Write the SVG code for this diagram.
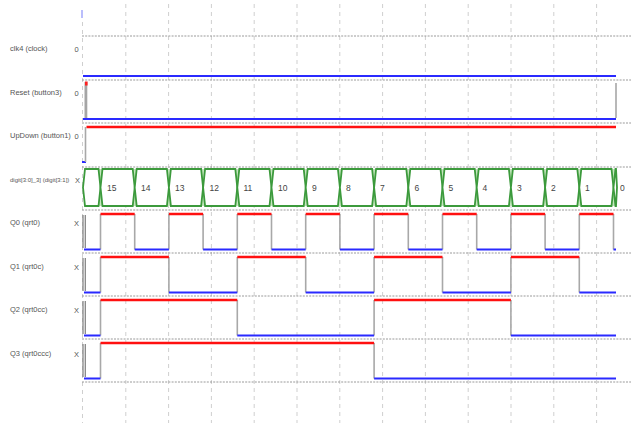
<svg xmlns="http://www.w3.org/2000/svg" width="631" height="423" viewBox="0 0 631 423">
  <style>
    .lbl { font-family: "Liberation Sans", Arial, sans-serif; font-size: 7.5px; fill: #555; }
    .lbs { font-family: "Liberation Sans", Arial, sans-serif; font-size: 6px; fill: #555; }
    .val { font-family: "Liberation Sans", Arial, sans-serif; font-size: 7.5px; fill: #555; text-anchor: middle; }
    .bv { font-family: "Liberation Sans", Arial, sans-serif; font-size: 8.5px; fill: #444; }
    .grid { stroke: #cfcfcf; stroke-width: 1; stroke-dasharray: 4 4; fill: none; }
    .sep { stroke: #9a9a9a; stroke-width: 1; stroke-dasharray: 2 1.2; fill: none; }
    .hi { stroke: #ff1010; stroke-width: 2.6; fill: none; }
    .lo { stroke: #2a2aff; stroke-width: 2; fill: none; }
    .edge { stroke: #a8a8a8; stroke-width: 1.6; fill: none; }
    .xmk { stroke: #858585; stroke-width: 1.3; fill: none; }
    .bus { fill: #ffffff; stroke: #3c9a3c; stroke-width: 1.8; }
    .busx { fill: #c4e6bd; }
  </style>
  <rect width="631" height="423" fill="#ffffff"/>

  <!-- time grid -->
  <g id="grid">
    <line class="grid" x1="82.5" y1="22" x2="82.5" y2="423"/>
    <line class="grid" x1="125.8" y1="4" x2="125.8" y2="423"/>
    <line class="grid" x1="168.6" y1="4" x2="168.6" y2="423"/>
    <line class="grid" x1="211.4" y1="4" x2="211.4" y2="423"/>
    <line class="grid" x1="254.2" y1="4" x2="254.2" y2="423"/>
    <line class="grid" x1="297" y1="4" x2="297" y2="423"/>
    <line class="grid" x1="339.8" y1="4" x2="339.8" y2="423"/>
    <line class="grid" x1="382.6" y1="4" x2="382.6" y2="423"/>
    <line class="grid" x1="425.4" y1="4" x2="425.4" y2="423"/>
    <line class="grid" x1="468.2" y1="4" x2="468.2" y2="423"/>
    <line class="grid" x1="511" y1="4" x2="511" y2="423"/>
    <line class="grid" x1="553.8" y1="4" x2="553.8" y2="423"/>
    <line class="grid" x1="596.6" y1="4" x2="596.6" y2="423"/>
    <!-- row separators -->
    <line class="sep" x1="82" y1="36" x2="631" y2="36"/>
    <line class="sep" x1="82" y1="80" x2="631" y2="80"/>
    <line class="sep" x1="82" y1="123" x2="631" y2="123"/>
    <line class="sep" x1="82" y1="167" x2="631" y2="167"/>
    <line class="sep" x1="82" y1="210" x2="631" y2="210"/>
    <line class="sep" x1="82" y1="253" x2="631" y2="253"/>
    <line class="sep" x1="82" y1="296" x2="631" y2="296"/>
    <line class="sep" x1="82" y1="339" x2="631" y2="339"/>
    <line class="sep" x1="82" y1="382" x2="631" y2="382"/>
    <!-- cursor -->
    <line x1="82" y1="10" x2="82" y2="18" stroke="#a9aefc" stroke-width="1.6"/>
  </g>

  <!-- clk4 -->
  <g id="sig-clk4">
    <text class="lbl" x="10" y="51">clk4 (clock)</text>
    <text class="val" x="76.5" y="52">0</text>
    <line class="lo" x1="83" y1="76" x2="616" y2="76"/>
  </g>

  <!-- Reset -->
  <g id="sig-reset">
    <text class="lbl" x="10" y="95">Reset (button3)</text>
    <text class="val" x="76.5" y="96">0</text>
    <rect x="84.5" y="82" width="2.8" height="36" fill="#a5a5a5"/>
    <rect x="85" y="81.5" width="2.6" height="4" fill="#ff2020"/>
    <line class="lo" x1="83" y1="119" x2="616" y2="119"/>
    <line x1="616" y1="83" x2="616" y2="118" stroke="#b8b8b8" stroke-width="2"/>
  </g>

  <!-- UpDown -->
  <g id="sig-updown">
    <text class="lbl" x="10" y="138">UpDown (button1)</text>
    <text class="val" x="76.5" y="139">0</text>
    <line class="lo" x1="82" y1="162" x2="86" y2="162"/>
    <line class="edge" x1="85.5" y1="127" x2="85.5" y2="162"/>
    <line class="hi" x1="86.5" y1="127" x2="616" y2="127"/>
  </g>

  <!-- digit bus -->
  <g id="sig-digit">
    <text class="lbs" x="10" y="182">digit[3:0]_3] (digit[3:1])</text>
    <text class="val" x="77.5" y="183">X</text>
    <g id="bus-cross">
      <rect class="busx" x="98.5" y="169" width="4" height="37"/>
      <rect class="busx" x="132.7" y="169" width="4" height="37"/>
      <rect class="busx" x="166.9" y="169" width="4" height="37"/>
      <rect class="busx" x="201.1" y="169" width="4" height="37"/>
      <rect class="busx" x="235.3" y="169" width="4" height="37"/>
      <rect class="busx" x="269.5" y="169" width="4" height="37"/>
      <rect class="busx" x="303.7" y="169" width="4" height="37"/>
      <rect class="busx" x="337.9" y="169" width="4" height="37"/>
      <rect class="busx" x="372.1" y="169" width="4" height="37"/>
      <rect class="busx" x="406.3" y="169" width="4" height="37"/>
      <rect class="busx" x="440.5" y="169" width="4" height="37"/>
      <rect class="busx" x="474.7" y="169" width="4" height="37"/>
      <rect class="busx" x="508.9" y="169" width="4" height="37"/>
      <rect class="busx" x="543.1" y="169" width="4" height="37"/>
      <rect class="busx" x="577.3" y="169" width="4" height="37"/>
      <rect class="busx" x="611.5" y="169" width="4" height="37"/>
    </g>
    <g id="bus-seg">
      <polygon class="bus" points="85,169 98.5,169 100.5,187.5 98.5,206 85,206 83,187.5"/>
      <polygon class="bus" points="102.5,169 132.7,169 134.7,187.5 132.7,206 102.5,206 100.5,187.5"/>
      <polygon class="bus" points="136.7,169 166.9,169 168.9,187.5 166.9,206 136.7,206 134.7,187.5"/>
      <polygon class="bus" points="170.9,169 201.1,169 203.1,187.5 201.1,206 170.9,206 168.9,187.5"/>
      <polygon class="bus" points="205.1,169 235.3,169 237.3,187.5 235.3,206 205.1,206 203.1,187.5"/>
      <polygon class="bus" points="239.3,169 269.5,169 271.5,187.5 269.5,206 239.3,206 237.3,187.5"/>
      <polygon class="bus" points="273.5,169 303.7,169 305.7,187.5 303.7,206 273.5,206 271.5,187.5"/>
      <polygon class="bus" points="307.7,169 337.9,169 339.9,187.5 337.9,206 307.7,206 305.7,187.5"/>
      <polygon class="bus" points="341.9,169 372.1,169 374.1,187.5 372.1,206 341.9,206 339.9,187.5"/>
      <polygon class="bus" points="376.1,169 406.3,169 408.3,187.5 406.3,206 376.1,206 374.1,187.5"/>
      <polygon class="bus" points="410.3,169 440.5,169 442.5,187.5 440.5,206 410.3,206 408.3,187.5"/>
      <polygon class="bus" points="444.5,169 474.7,169 476.7,187.5 474.7,206 444.5,206 442.5,187.5"/>
      <polygon class="bus" points="478.7,169 508.9,169 510.9,187.5 508.9,206 478.7,206 476.7,187.5"/>
      <polygon class="bus" points="512.9,169 543.1,169 545.1,187.5 543.1,206 512.9,206 510.9,187.5"/>
      <polygon class="bus" points="547.1,169 577.3,169 579.3,187.5 577.3,206 547.1,206 545.1,187.5"/>
      <polygon class="bus" points="581.3,169 611.5,169 613.5,187.5 611.5,206 581.3,206 579.3,187.5"/>
      <polygon class="bus" points="615.5,169 616,169 617,187.5 616,206 615.5,206 613.5,187.5"/>
    </g>
    <g id="bus-val">
      <text class="bv" x="107" y="191">15</text>
      <text class="bv" x="141" y="191">14</text>
      <text class="bv" x="175" y="191">13</text>
      <text class="bv" x="209.5" y="191">12</text>
      <text class="bv" x="243.5" y="191">11</text>
      <text class="bv" x="278" y="191">10</text>
      <text class="bv" x="312" y="191">9</text>
      <text class="bv" x="346" y="191">8</text>
      <text class="bv" x="380" y="191">7</text>
      <text class="bv" x="414.5" y="191">6</text>
      <text class="bv" x="448.5" y="191">5</text>
      <text class="bv" x="482.5" y="191">4</text>
      <text class="bv" x="517" y="191">3</text>
      <text class="bv" x="551" y="191">2</text>
      <text class="bv" x="585" y="191">1</text>
      <text class="bv" x="620" y="191">0</text>
    </g>
  </g>

  <!-- Q0 -->
  <g id="sig-q0">
    <text class="lbl" x="10" y="225">Q0 (qrt0)</text>
    <text class="val" x="76.5" y="226">X</text>
    <line class="xmk" x1="83" y1="215" x2="83" y2="248"/>
    <line class="xmk" x1="85.3" y1="215" x2="85.3" y2="248"/>
    <path class="edge" d="M100.5 214V249.5M134.7 214V249.5M168.9 214V249.5M203.1 214V249.5M237.3 214V249.5M271.5 214V249.5M305.7 214V249.5M339.9 214V249.5M374.1 214V249.5M408.3 214V249.5M442.5 214V249.5M476.7 214V249.5M510.9 214V249.5M545.1 214V249.5M579.3 214V249.5M613.5 214V249.5"/>
    <path class="lo" d="M84 249.5H100.5M134.7 249.5H168.9M203.1 249.5H237.3M271.5 249.5H305.7M339.9 249.5H374.1M408.3 249.5H442.5M476.7 249.5H510.9M545.1 249.5H579.3M613.5 249.5H616"/>
    <path class="hi" d="M100.5 214H134.7M168.9 214H203.1M237.3 214H271.5M305.7 214H339.9M374.1 214H408.3M442.5 214H476.7M510.9 214H545.1M579.3 214H613.5"/>
  </g>

  <!-- Q1 -->
  <g id="sig-q1">
    <text class="lbl" x="10" y="269">Q1 (qrt0c)</text>
    <text class="val" x="76.5" y="270">X</text>
    <line class="xmk" x1="83" y1="258" x2="83" y2="291"/>
    <line class="xmk" x1="85.3" y1="258" x2="85.3" y2="291"/>
    <path class="edge" d="M100.5 257V292.5M168.9 257V292.5M237.3 257V292.5M305.7 257V292.5M374.1 257V292.5M442.5 257V292.5M510.9 257V292.5M579.3 257V292.5"/>
    <path class="lo" d="M84 292.5H100.5M168.9 292.5H237.3M305.7 292.5H374.1M442.5 292.5H510.9M579.3 292.5H616"/>
    <path class="hi" d="M100.5 257H168.9M237.3 257H305.7M374.1 257H442.5M510.9 257H579.3"/>
  </g>

  <!-- Q2 -->
  <g id="sig-q2">
    <text class="lbl" x="10" y="312">Q2 (qrt0cc)</text>
    <text class="val" x="76.5" y="313">X</text>
    <line class="xmk" x1="83" y1="301" x2="83" y2="334"/>
    <line class="xmk" x1="85.3" y1="301" x2="85.3" y2="334"/>
    <path class="edge" d="M100.5 300V335.5M237.3 300V335.5M374.1 300V335.5M510.9 300V335.5"/>
    <path class="lo" d="M84 335.5H100.5M237.3 335.5H374.1M510.9 335.5H616"/>
    <path class="hi" d="M100.5 300H237.3M374.1 300H510.9"/>
  </g>

  <!-- Q3 -->
  <g id="sig-q3">
    <text class="lbl" x="10" y="356">Q3 (qrt0ccc)</text>
    <text class="val" x="76.5" y="357">X</text>
    <line class="xmk" x1="83" y1="344" x2="83" y2="377"/>
    <line class="xmk" x1="85.3" y1="344" x2="85.3" y2="377"/>
    <path class="edge" d="M100.5 343V378.5M374.1 343V378.5"/>
    <path class="lo" d="M84 378.5H100.5M374.1 378.5H616"/>
    <path class="hi" d="M100.5 343H374.1"/>
  </g>
</svg>
